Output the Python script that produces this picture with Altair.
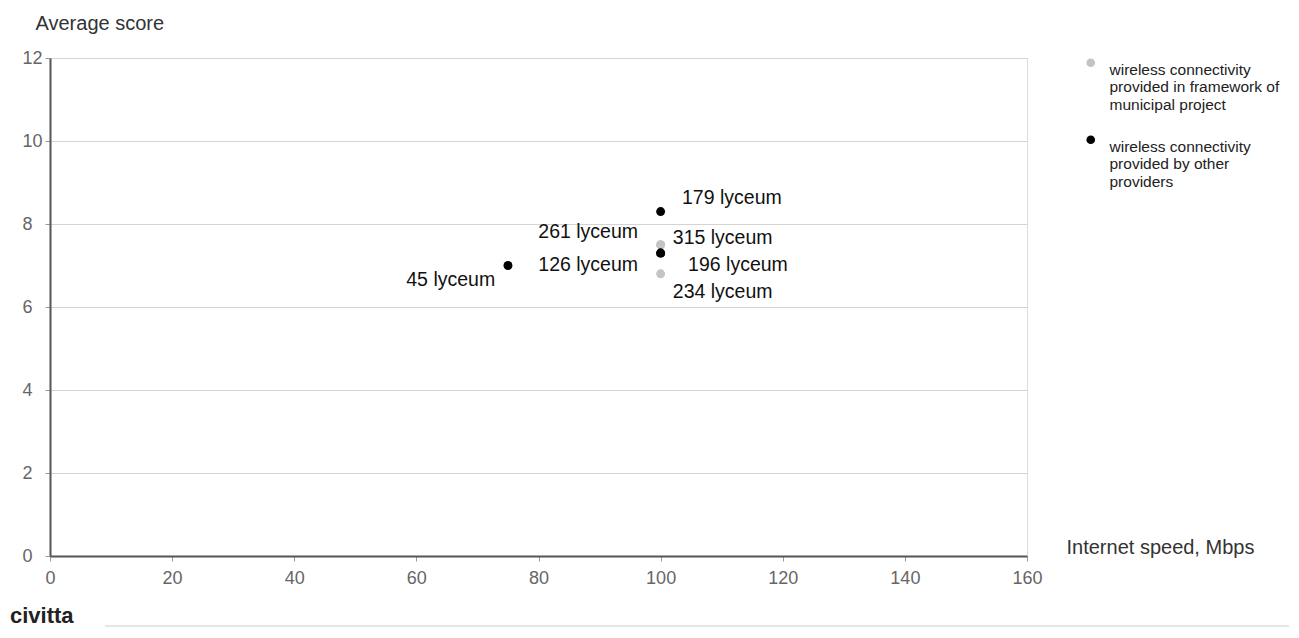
import altair as alt
import pandas as pd

# ---- data ----
schools = ["179 lyceum", "261 lyceum", "315 lyceum", "126 lyceum", "196 lyceum", "234 lyceum", "45 lyceum"]
speed = [100, 100, 100, 100, 100, 100, 75]
score = [8.3, 7.5, 7.5, 7.3, 7.3, 6.8, 7.0]
provider = ["other", "municipal", "municipal", "other", "other", "municipal", "other"]
label_side = ["right", "left", "right", "left", "right", "right", "left"]
label_x = [103.5, 96.3, 102.0, 96.3, 104.5, 102.0, 72.9]
label_y = [8.63, 7.81, 7.66, 7.01, 7.01, 6.36, 6.65]

legend_names = {
    "municipal": "wireless connectivity|provided in framework of|municipal project",
    "other": "wireless connectivity|provided by other|providers",
}
colors = ["#c4c4c4", "#000000"]

x_ticks = [0, 20, 40, 60, 80, 100, 120, 140, 160]
y_ticks = [0, 2, 4, 6, 8, 10, 12]

df = pd.DataFrame({
    "school": schools,
    "speed": speed,
    "score": score,
    "provider": [legend_names[p] for p in provider],
    "side": label_side,
    "lx": label_x,
    "ly": label_y,
})

W, H = 977, 498
FONT = "Liberation Sans"

xscale = alt.Scale(domain=[0, 160], nice=False, zero=False)
yscale = alt.Scale(domain=[0, 12], nice=False)

base = alt.Chart(df)

points = base.mark_circle(size=80, opacity=1).encode(
    x=alt.X("speed:Q", scale=xscale,
            axis=alt.Axis(values=x_ticks, grid=False, title="Internet speed, Mbps",
                          titleAngle=0, titleAlign="left", titleBaseline="middle",
                          titleX=1016, titleY=-9, titleFontWeight="normal",
                          titleFontSize=20, titleColor="#333", labelFontSize=18,
                          labelColor="#666", labelPadding=8, tickSize=5, labelFlush=False,
                          tickColor="#999", domainColor="#555", domainWidth=2)),
    y=alt.Y("score:Q", scale=yscale,
            axis=alt.Axis(values=y_ticks, grid=True, gridColor="#d4d4d4", title="Average score",
                          titleAngle=0, titleAlign="left", titleBaseline="middle",
                          titleX=-15, titleY=-35, titleFontWeight="normal",
                          titleFontSize=20, titleColor="#333", labelFontSize=18,
                          labelColor="#666", labelAlign="left", labelPadding=23, tickSize=5,
                          labelFlush=False,
                          tickColor="#999", domainColor="#555", domainWidth=2)),
    color=alt.Color("provider:N",
                    scale=alt.Scale(domain=[legend_names["municipal"], legend_names["other"]], range=colors),
                    legend=alt.Legend(title=None, orient="none", legendX=1033, legendY=-3,
                                      labelExpr="split(datum.label, '|')",
                                      labelFontSize=15.5, labelColor="#222", labelFont=FONT,
                                      symbolSize=75, symbolType="circle", symbolStrokeWidth=0,
                                      labelOffset=11, labelLimit=400, rowPadding=18,
                                      labelBaseline="top")),
)

left_labels = base.transform_filter(alt.datum.side == "left").mark_text(
    align="right", baseline="middle", fontSize=19.5, font=FONT, color="#111"
).encode(x=alt.X("lx:Q", scale=xscale), y=alt.Y("ly:Q", scale=yscale), text="school:N")

right_labels = base.transform_filter(alt.datum.side == "right").mark_text(
    align="left", baseline="middle", fontSize=19.5, font=FONT, color="#111"
).encode(x=alt.X("lx:Q", scale=xscale), y=alt.Y("ly:Q", scale=yscale), text="school:N")

logo = alt.Chart(pd.DataFrame({"t": ["civitta"]})).mark_text(
    align="left", baseline="alphabetic", fontSize=22, fontWeight="bold", font=FONT, color="#222"
).encode(x=alt.value(-40), y=alt.value(H + 67), text="t:N")

footer_line = alt.Chart(pd.DataFrame({"t": [0]})).mark_rule(color="#cccccc", strokeWidth=1).encode(
    x=alt.value(55), x2=alt.value(W + 262), y=alt.value(H + 70))

chart = alt.layer(points, left_labels, right_labels, logo, footer_line).properties(
    width=W, height=H,
    autosize=alt.AutoSizeParams(type="none"),
    padding={"left": 42, "top": 50, "right": 264, "bottom": 74},
).configure_view(stroke="#999999", strokeWidth=1.5).configure(font=FONT)

chart.save("out.html", embed_options={"renderer": "svg", "actions": False})
